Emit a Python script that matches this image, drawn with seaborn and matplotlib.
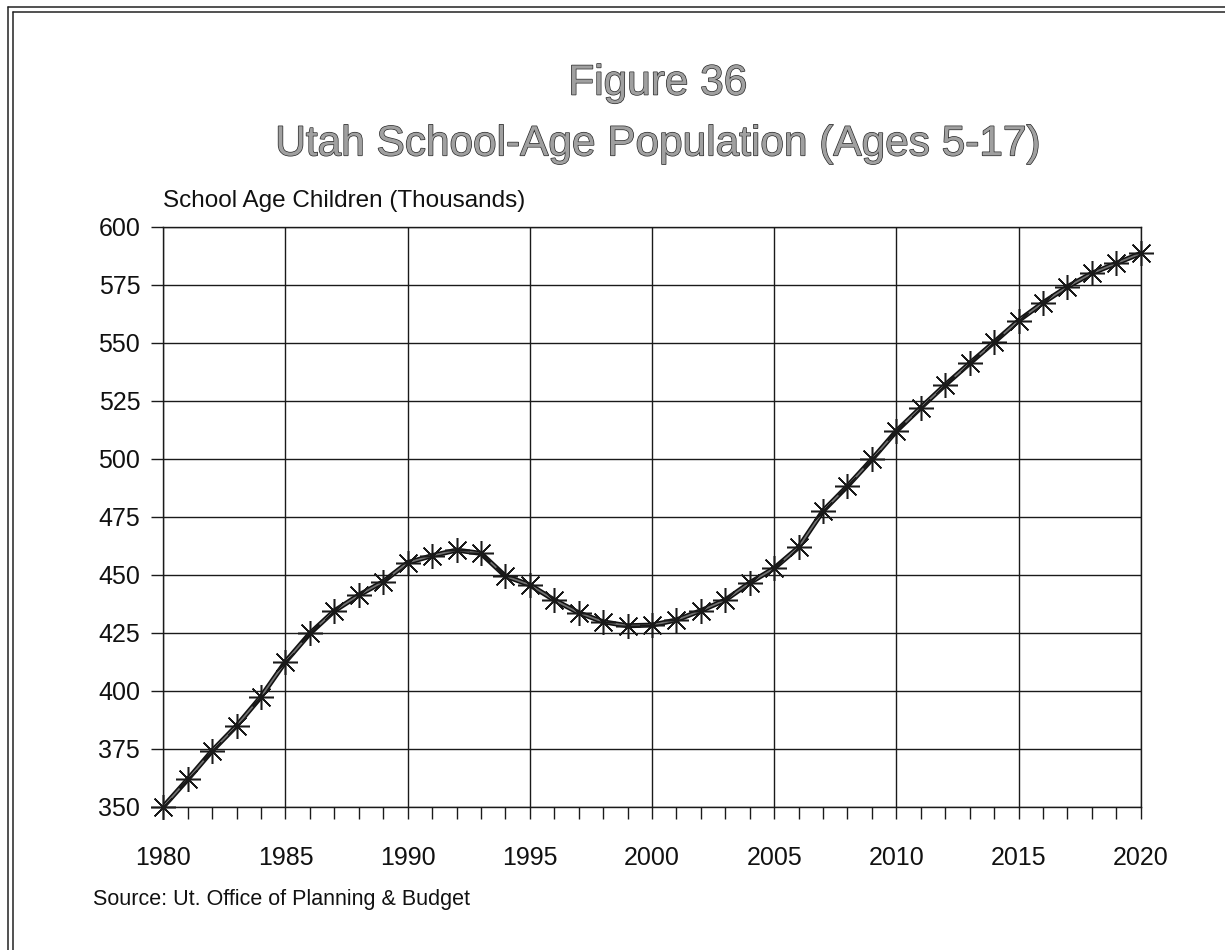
import matplotlib
matplotlib.use("Agg")
import matplotlib.pyplot as plt
import matplotlib.patheffects as pe
from matplotlib.lines import Line2D
from matplotlib.ticker import MultipleLocator
import seaborn as sns
import pandas as pd

# Utah school-age population (ages 5-17), thousands
years = list(range(1980, 2021))
children = [
    350.0, 361.8, 374.1, 384.9, 397.4, 412.5, 424.7, 434.4, 441.2, 447.0,
    455.2, 458.2, 460.6, 459.2, 449.4, 445.6, 439.1, 433.6, 429.7, 428.0,
    428.3, 430.5, 434.5, 439.1, 446.5, 452.8, 461.8, 477.5, 488.2, 499.7,
    511.9, 522.0, 531.8, 541.1, 550.2, 559.5, 567.2, 574.1, 579.9, 584.2,
    588.5,
]
y_ticks = [350, 375, 400, 425, 450, 475, 500, 525, 550, 575, 600]
x_ticks = [1980, 1985, 1990, 1995, 2000, 2005, 2010, 2015, 2020]

title_lines = ["Figure 36", "Utah School-Age Population (Ages 5-17)"]
y_caption = "School Age Children (Thousands)"
source_note = "Source: Ut. Office of Planning & Budget"

df = pd.DataFrame({"Year": years, "Children": children})

sns.set_theme(style="white")
plt.rcParams["font.family"] = ["Liberation Sans", "DejaVu Sans"]

fig = plt.figure(figsize=(12.25, 9.5), dpi=100)
ax = fig.add_axes([0.1333, 0.1508, 0.7979, 0.6106])

# dark outline of the curve, then a lighter core with asterisk markers
sns.lineplot(data=df, x="Year", y="Children", ax=ax, color="#111111",
             linewidth=3.6, zorder=3)
sns.lineplot(data=df, x="Year", y="Children", ax=ax, color="#707070",
             linewidth=1.3, marker=(8, 2, 0), markersize=18,
             markeredgecolor="#1a1a1a", markeredgewidth=1.1, zorder=4,
             clip_on=False)

ax.set_xlim(1980, 2020)
ax.set_ylim(350, 600)
ax.xaxis.set_major_locator(MultipleLocator(5))
ax.xaxis.set_minor_locator(MultipleLocator(1))
ax.set_xticks(x_ticks)
ax.set_yticks(y_ticks)
ax.set_xticklabels([str(v) for v in x_ticks])
ax.set_yticklabels([str(v) for v in y_ticks])
ax.set_xlabel("")
ax.set_ylabel("")

ax.grid(True, which="major", color="#1a1a1a", linewidth=1.0)
ax.set_axisbelow(True)
for side in ["left", "right", "top", "bottom"]:
    ax.spines[side].set_visible(True)
    ax.spines[side].set_color("#1a1a1a")
    ax.spines[side].set_linewidth(1.0)

ax.tick_params(axis="x", which="both", direction="out", length=8.6,
               width=1.0, color="#1a1a1a", bottom=True, pad=20,
               labelsize=18, labelcolor="#111111")
ax.tick_params(axis="y", which="major", direction="out", length=8.6,
               width=1.0, color="#1a1a1a", left=True, pad=8,
               labelsize=18, labelcolor="#111111")

# two-line title with an outlined look
title_fx = [pe.Stroke(linewidth=1.0, foreground="#2a2a2a"), pe.Normal()]
fig.text(0.537, 0.912, title_lines[0], ha="center", va="center",
         fontsize=30.5, color="#a0a0a0", path_effects=title_fx)
fig.text(0.537, 0.848, title_lines[1], ha="center", va="center",
         fontsize=30.5, color="#a0a0a0", path_effects=title_fx)

fig.text(0.1333, 0.782, y_caption, ha="left", va="baseline",
         fontsize=17.5, color="#111111")
fig.text(0.076, 0.053, source_note, ha="left", va="center",
         fontsize=15.5, color="#111111")

# double-ruled page frame along the left and top edges
for off in (8.3, 12.7):
    fig.add_artist(Line2D([off / 1225, off / 1225], [0, 1 - (off - 1) / 950],
                          transform=fig.transFigure, color="#222222",
                          linewidth=1.1))
for off in (7.3, 11.7):
    fig.add_artist(Line2D([(off + 1) / 1225, 1], [1 - off / 950, 1 - off / 950],
                          transform=fig.transFigure, color="#222222",
                          linewidth=1.1))

fig.savefig("out.png", dpi=100, facecolor="white")
